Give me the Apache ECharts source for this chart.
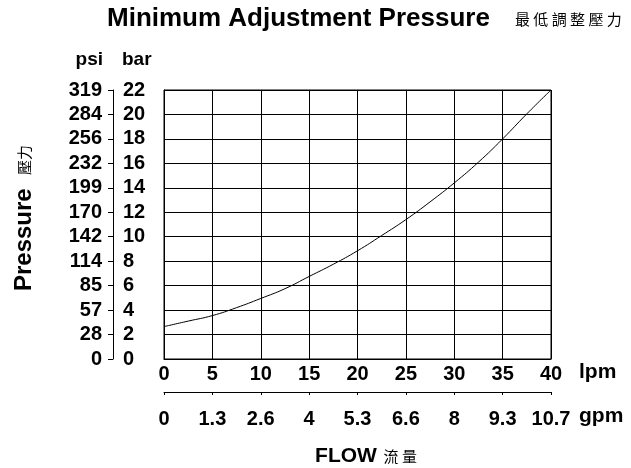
<!DOCTYPE html>
<html>
<head>
<meta charset="utf-8">
<script src="https://cdn.jsdelivr.net/npm/echarts@6/dist/echarts.min.js"></script>
<style>
  html, body { margin: 0; padding: 0; background: #fff; }
  #chart { width: 631px; height: 468px; }
</style>
</head>
<body>
<div id="chart"></div>
<script>
// flow in lpm, pressure in bar
const flowLpm = [0, 2.5, 5, 7.5, 10, 12.5, 15, 17.5, 20, 22.5, 25, 27.5, 30, 32.5, 35, 37.5, 40]
const pressureBar = [2.65, 3.1, 3.55, 4.2, 4.95, 5.75, 6.75, 7.75, 8.85, 10.1, 11.4, 12.85, 14.4, 16.1, 18.0, 20.05, 22]

// secondary tick labels
const psiLabels = ['0', '28', '57', '85', '114', '142', '170', '199', '232', '256', '284', '319']
const gpmLabels = ['0', '1.3', '2.6', '4', '5.3', '6.6', '8', '9.3', '10.7']

const FONT = '"Liberation Sans", Arial, sans-serif'
const CJK = '"Noto Sans CJK TC", sans-serif'
const labelStyle = { color: '#000', fontFamily: FONT, fontWeight: 'bold', fontSize: 20 }

const chart = echarts.init(document.getElementById('chart'))

chart.setOption({
  animation: false,
  grid: {
    left: 164, right: 80, top: 90, bottom: 109,
    show: true, borderColor: '#000', borderWidth: 1
  },
  xAxis: [
    {
      type: 'value', min: 0, max: 40, interval: 5,
      axisLine: { show: true, lineStyle: { color: '#000' } },
      axisTick: { show: false },
      axisLabel: Object.assign({ margin: 5 }, labelStyle),
      splitLine: { show: true, lineStyle: { color: '#000', width: 1 } }
    },
    {
      type: 'value', min: 0, max: 40, interval: 5, position: 'bottom', offset: 33,
      axisLine: { show: true, onZero: false, lineStyle: { color: '#000' } },
      axisTick: { show: true, length: 3, lineStyle: { color: '#000' } },
      axisLabel: Object.assign({ margin: 17, formatter: v => gpmLabels[v / 5] }, labelStyle),
      splitLine: { show: false }
    },
    {
      type: 'value', min: 0, max: 40, interval: 5, position: 'bottom', offset: 33,
      axisLine: { show: false },
      axisTick: { show: true, inside: true, length: 3, lineStyle: { color: '#000' } },
      axisLabel: { show: false },
      splitLine: { show: false }
    }
  ],
  yAxis: [
    {
      type: 'value', min: 0, max: 22, interval: 2,
      axisLine: { show: true, lineStyle: { color: '#000' } },
      axisTick: { show: false },
      axisLabel: { show: false },
      splitLine: { show: true, lineStyle: { color: '#000', width: 1 } }
    },
    {
      type: 'value', min: 0, max: 22, interval: 2, position: 'left', offset: 51,
      axisLine: { show: true, onZero: false, lineStyle: { color: '#000' } },
      axisTick: { show: true, length: 5, lineStyle: { color: '#000' } },
      axisLabel: Object.assign({ margin: 11, formatter: v => psiLabels[v / 2] }, labelStyle),
      splitLine: { show: false }
    },
    {
      type: 'value', min: 0, max: 22, interval: 2, position: 'left', offset: 51,
      axisLine: { show: false },
      axisTick: { show: true, inside: true, length: 5, lineStyle: { color: '#000' } },
      axisLabel: Object.assign({ inside: true, margin: 10 }, labelStyle),
      splitLine: { show: false }
    }
  ],
  graphic: [
    {
      type: 'text', left: 107, top: 6,
      style: { text: 'Minimum Adjustment Pressure', fill: '#000', font: 'bold 26px ' + FONT }
    },
    {
      type: 'text', left: 515, top: 12,
      style: { text: '最 低 調 整 壓 力', fill: '#000', font: '15px ' + CJK }
    },
    {
      type: 'text', right: 631 - 103, top: 50,
      style: { text: 'psi', fill: '#000', font: 'bold 19px ' + FONT }
    },
    {
      type: 'text', left: 122, top: 50,
      style: { text: 'bar', fill: '#000', font: 'bold 19px ' + FONT }
    },
    {
      type: 'text', x: 24, y: 218, rotation: Math.PI / 2,
      style: {
        text: '{a|Pressure}    {b|壓力}', fill: '#000', align: 'center', verticalAlign: 'middle',
        rich: {
          a: { fontFamily: FONT, fontWeight: 'bold', fontSize: 24 },
          b: { fontFamily: CJK, fontSize: 15 }
        }
      }
    },
    {
      type: 'text', left: 579, top: 362,
      style: { text: 'lpm', fill: '#000', font: 'bold 21px ' + FONT }
    },
    {
      type: 'text', left: 579, top: 406,
      style: { text: 'gpm', fill: '#000', font: 'bold 21px ' + FONT }
    },
    {
      type: 'text', x: 366, y: 456,
      style: {
        text: '{a|FLOW}  {b|流 量}', fill: '#000', align: 'center', verticalAlign: 'middle',
        rich: {
          a: { fontFamily: FONT, fontWeight: 'bold', fontSize: 21 },
          b: { fontFamily: CJK, fontSize: 15 }
        }
      }
    }
  ],
  series: [
    {
      type: 'line',
      xAxisIndex: 0,
      yAxisIndex: 0,
      smooth: true,
      symbol: 'none',
      lineStyle: { color: '#000', width: 1 },
      data: flowLpm.map((f, i) => [f, pressureBar[i]])
    }
  ]
})
</script>
</body>
</html>
